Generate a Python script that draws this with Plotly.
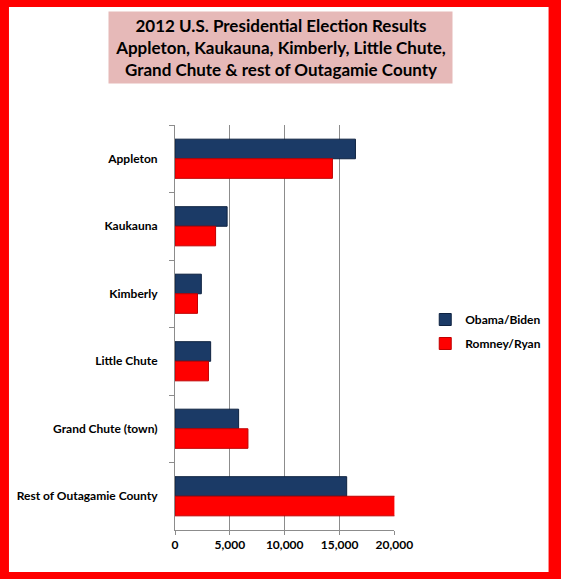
import plotly.graph_objects as go

places = ["Appleton", "Kaukauna", "Kimberly", "Little Chute",
          "Grand Chute (town)", "Rest of Outagamie County"]
obama = [16450, 4750, 2400, 3250, 5800, 15650]
romney = [14350, 3700, 2050, 3050, 6650, 20100]
tick_vals = [0, 5000, 10000, 15000, 20000]
tick_text = ["0", "5,000", "10,000", "15,000", "20,000"]

W, H = 561, 579
L, R, T, B = 175, 164, 125, 49
pw, ph = W - L - R, H - T - B


def px(x):
    return (x - L) / pw


def py(y):
    return (H - B - y) / ph


fig = go.Figure()
fig.add_trace(go.Bar(y=places, x=obama, orientation="h", name="Obama/Biden",
                     legendgroup="o",
                     marker=dict(color="#1B3A66", line=dict(color="#0E2240", width=1))))
fig.add_trace(go.Bar(y=places, x=romney, orientation="h", name="Romney/Ryan",
                     legendgroup="r",
                     marker=dict(color="#FF0000", line=dict(color="#C00000", width=1))))

font = dict(family="Lato, Noto Sans, sans-serif", color="black", weight="bold")

fig.update_layout(
    width=W, height=H,
    margin=dict(l=L, r=R, t=T, b=B),
    paper_bgcolor="#FF0000",
    plot_bgcolor="white",
    barmode="group",
    bargap=0.42,
    bargroupgap=0.0,
    font=dict(size=12, **font),
    legend=dict(xref="container", yref="container", x=0.758, y=1 - 305 / H,
                xanchor="left", yanchor="top", traceorder="grouped",
                bgcolor="rgba(0,0,0,0)",
                tracegroupgap=5, font=dict(size=12, **font)),
    shapes=[dict(type="rect", xref="paper", yref="paper", layer="below",
                 x0=px(7), x1=px(553), y0=py(572), y1=py(7),
                 fillcolor="white", line=dict(width=0))],
    annotations=[dict(xref="paper", yref="paper", x=px(281.5), y=py(47.5),
                      xanchor="center", yanchor="middle", showarrow=False,
                      text="2012 U.S. Presidential Election Results<br>"
                           "Appleton, Kaukauna, Kimberly, Little Chute,<br>"
                           "Grand Chute &amp; rest of Outagamie County",
                      font=dict(size=17, **font),
                      bgcolor="#E6B9B8", width=343, height=71, borderpad=0)],
)
fig.update_xaxes(range=[0, 20000], tickvals=tick_vals, ticktext=tick_text,
                 showgrid=True, gridcolor="#8C8C8C", gridwidth=1,
                 showline=True, linecolor="#8C8C8C", ticks="outside",
                 tickcolor="#8C8C8C", ticklen=4, zeroline=False,
                 tickfont=dict(size=12, **font))
fig.update_yaxes(autorange="reversed", showline=True, linecolor="#8C8C8C",
                 ticks="outside", tickson="boundaries", tickcolor="#8C8C8C",
                 ticklen=5, ticklabelstandoff=14, showgrid=False,
                 tickfont=dict(size=12, **font))

# the page has a default body margin; drop it so the figure fills the window
fig.write_html("out.html", config={"displayModeBar": False},
               post_script="document.body.style.margin='0';")
